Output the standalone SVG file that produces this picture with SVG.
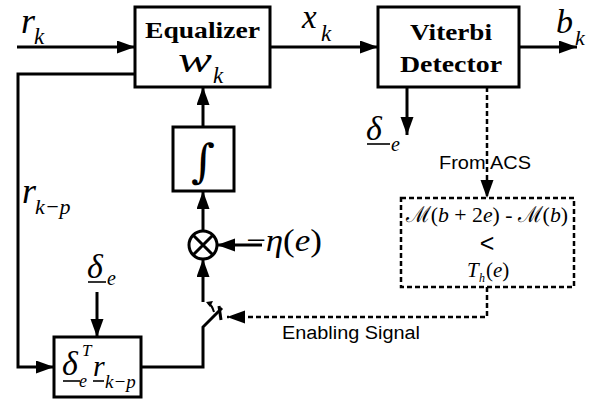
<svg xmlns="http://www.w3.org/2000/svg" width="605" height="402" viewBox="0 0 605 402">
<style>
.ln{fill:none;stroke:#000;stroke-width:3}
.ds{fill:none;stroke:#000;stroke-width:2.5;stroke-dasharray:5 3}
.box{fill:#fff;stroke:#000;stroke-width:3}
.dbox{fill:#fff;stroke:#000;stroke-width:2.5;stroke-dasharray:5 3}
.m{font-family:"Liberation Serif","DejaVu Serif",serif;font-style:italic;fill:#000}
.r{font-family:"Liberation Serif","DejaVu Serif",serif;font-style:normal;fill:#000}
.i{font-style:italic}
.b{font-family:"Liberation Serif","DejaVu Serif",serif;font-weight:bold;fill:#000}
.s{font-family:"Liberation Sans",Arial,sans-serif;fill:#000}
.u{stroke:#000;stroke-width:1.6}
</style>
<defs>
<marker id="ah" markerUnits="userSpaceOnUse" markerWidth="19" markerHeight="14" refX="18" refY="6.5" orient="auto">
<path d="M0,0 L18,6.5 L0,13 z" fill="#000"/>
</marker>
</defs>
<g id="connectors">
<path class="ln" d="M17,47 H135" marker-end="url(#ah)"/>
<path class="ln" d="M270,47 H378" marker-end="url(#ah)"/>
<path class="ln" d="M519,47 H577" marker-end="url(#ah)"/>
<path class="ln" d="M407,87 V135" marker-end="url(#ah)"/>
<path class="ln" d="M135,74 H18 V367 H54" marker-end="url(#ah)"/>
<path class="ln" d="M97,292 V337" marker-end="url(#ah)"/>
<path class="ln" d="M141,367 H203 V327 L222,308"/>
<path class="ln" d="M219,306 L221,320"/>
<path class="ln" d="M203,302 V259" marker-end="url(#ah)"/>
<path class="ln" d="M203,231 V191" marker-end="url(#ah)"/>
<path class="ln" d="M203,127 V87" marker-end="url(#ah)"/>
<path class="ln" d="M262,245 H217" marker-end="url(#ah)"/>
<path fill="none" stroke="#000" stroke-width="2" d="M214,312 Q212,305 208,303"/>
<path d="M206,302 L213,301 L210,307 z" fill="#000"/>
<path class="ds" d="M487,87 V198" marker-end="url(#ah)"/>
<path class="ds" d="M487,287 V317 H227" marker-end="url(#ah)"/>
</g>
<g id="input-label">
<text class="m" x="21" y="33" font-size="36">r</text>
<text class="m" x="34" y="44" font-size="23">k</text>
</g>
<g id="equalizer">
<rect class="box" x="135" y="7" width="135" height="80"/>
<text class="b" x="145" y="38" font-size="24" textLength="115" lengthAdjust="spacingAndGlyphs">Equalizer</text>
<text class="m" x="178" y="72" font-size="36" textLength="34" lengthAdjust="spacingAndGlyphs">w</text>
<text class="m" x="213" y="83" font-size="23">k</text>
</g>
<g id="xk-label">
<text class="m" x="302" y="28" font-size="33">x</text>
<text class="m" x="321" y="41" font-size="23">k</text>
</g>
<g id="viterbi">
<rect class="box" x="378" y="7" width="141" height="80"/>
<text class="b" x="410" y="40" font-size="24" textLength="82" lengthAdjust="spacingAndGlyphs">Viterbi</text>
<text class="b" x="400" y="72" font-size="24" textLength="102" lengthAdjust="spacingAndGlyphs">Detector</text>
</g>
<g id="bk-label">
<text class="m" x="556" y="33" font-size="34">b</text>
<text class="m" x="575" y="45" font-size="22">k</text>
</g>
<g id="delta-out">
<text class="m" x="366" y="140" font-size="34">δ</text>
<line class="u" x1="367" y1="144" x2="390" y2="144"/>
<text class="m" x="391" y="151" font-size="20">e</text>
</g>
<g id="from-acs">
<text class="s" x="439" y="169" font-size="18" textLength="92" lengthAdjust="spacingAndGlyphs">From ACS</text>
</g>
<g id="threshold">
<rect class="dbox" x="401" y="198" width="173" height="89"/>
<text class="r" x="406" y="222" font-size="22" textLength="162" lengthAdjust="spacingAndGlyphs">ℳ(<tspan class="i">b</tspan> + 2<tspan class="i">e</tspan>) - ℳ(<tspan class="i">b</tspan>)</text>
<text x="487" y="252" font-size="25" text-anchor="middle" font-family="Liberation Sans,Arial,sans-serif">&lt;</text>
<text class="m" x="467" y="277" font-size="21">T</text>
<text class="m" x="479" y="282" font-size="12">h</text>
<text class="r" x="486" y="277" font-size="21">(<tspan class="i">e</tspan>)</text>
</g>
<g id="enabling">
<text class="s" x="282" y="339" font-size="18" textLength="138" lengthAdjust="spacingAndGlyphs">Enabling Signal</text>
</g>
<g id="integrator">
<rect class="box" x="173" y="127" width="61" height="64"/>
<text x="203" y="177" font-size="46" text-anchor="middle" font-family="DejaVu Serif,serif" font-style="italic">∫</text>
</g>
<g id="multiplier">
<circle class="box" cx="203" cy="245" r="14"/>
<path class="ln" d="M193,235 L213,255 M213,235 L193,255" stroke-width="2.5"/>
</g>
<g id="eta">
<text class="r" x="246" y="251" font-size="32" textLength="76" lengthAdjust="spacingAndGlyphs">−<tspan class="i">η</tspan>(<tspan class="i">e</tspan>)</text>
</g>
<g id="rkp-label">
<text class="m" x="22" y="203" font-size="36">r</text>
<text class="m" x="35" y="214" font-size="22">k−p</text>
</g>
<g id="delta-in">
<text class="m" x="87" y="278" font-size="34">δ</text>
<line class="u" x1="88" y1="282" x2="106" y2="282"/>
<text class="m" x="107" y="285" font-size="20">e</text>
</g>
<g id="correlator">
<rect class="box" x="54" y="337" width="87" height="60"/>
<text class="m" x="62" y="375" font-size="34">δ</text>
<line class="u" x1="63" y1="381" x2="80" y2="381"/>
<text class="m" x="79" y="387" font-size="18">e</text>
<text class="m" x="82" y="356" font-size="17">T</text>
<text class="m" x="93" y="376" font-size="30">r</text>
<line class="u" x1="93" y1="381" x2="104" y2="381"/>
<text class="m" x="105" y="388" font-size="19">k−p</text>
</g>
</svg>
